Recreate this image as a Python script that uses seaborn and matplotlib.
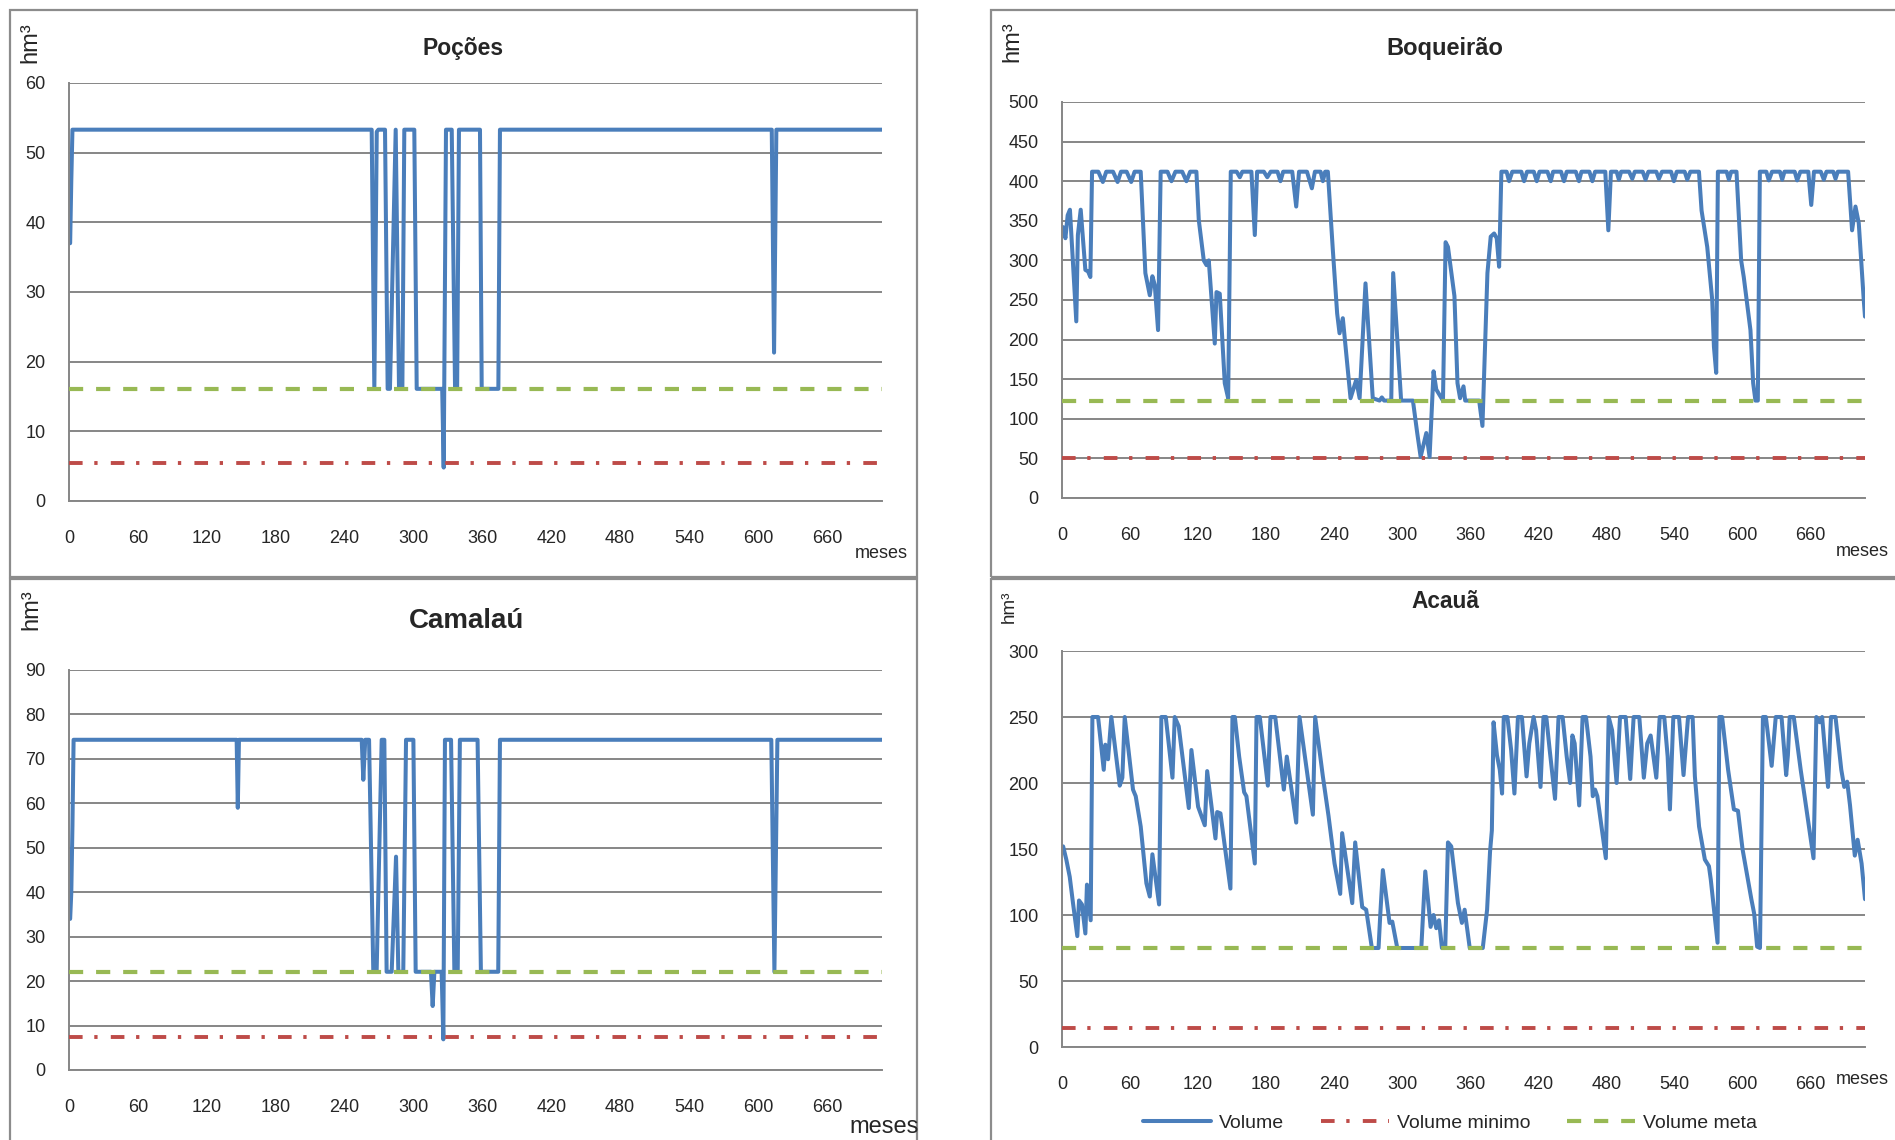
# Volume simulado dos reservatórios (Poções, Boqueirão, Camalaú, Acauã)
import pandas as pd
import matplotlib.pyplot as plt
from matplotlib.patches import Rectangle
import seaborn as sns

# --- dados (mes, volume hm3) ---
pocoes_vol = [(1, 37.0), (2, 46.0), (3, 53.3), (263.6, 53.3), (265.9, 16.1), (268, 53.0), (269.4, 53.3),
              (275.2, 53.3), (277.5, 16.1), (279.5, 16.1), (284.5, 53.3), (287.4, 16.1), (290.3, 16.1),
              (292, 53.3), (300.7, 53.3), (302.8, 16.1), (325, 16.1), (326.3, 4.8), (328.3, 53.3),
              (333.3, 53.3), (336.2, 16.1), (338, 16.1), (339.6, 53.3), (357.9, 53.3), (359.4, 16.1),
              (373.9, 16.1), (375.3, 53.3), (612, 53.3), (614, 21.3), (616, 53.3), (708, 53.3)]

camalau_vol = [(1, 34.0), (2, 40.0), (3, 55.0), (4, 74.3), (146, 74.3), (147, 59.0), (148, 74.3),
               (254.9, 74.3), (256.3, 65.3), (258, 74.3), (261.3, 74.3), (265, 22.1), (267.9, 22.1),
               (272.3, 74.3), (274.6, 74.3), (276.6, 22.1), (281, 22.1), (284.8, 48.0), (286.8, 22.1),
               (291.1, 22.1), (293.5, 74.3), (299.9, 74.3), (301.9, 22.1), (315.2, 22.1), (316.7, 14.4),
               (318.2, 22.1), (324.5, 22.1), (326, 6.9), (327.4, 74.3), (332.7, 74.3), (335.6, 22.1),
               (338.5, 22.1), (340.4, 74.3), (355.8, 74.3), (358.7, 22.1), (373.8, 22.1), (375.3, 74.3),
               (611.6, 74.3), (614.3, 22.1), (616.9, 74.3), (708, 74.3)]

boqueirao_vol = [(1, 342), (3, 328), (5, 357), (7, 364), (12.6, 223), (14, 332), (16.5, 364), (20.6, 288),
                 (23, 286), (25, 279), (26.5, 412), (32, 412), (36, 399), (39, 412), (45, 412), (49, 399),
                 (52, 412), (57, 412), (61, 399), (64, 412), (69.4, 412), (73.5, 284), (77.4, 256),
                 (79.7, 280), (81.8, 269), (84.7, 212), (87, 412), (93, 412), (96.5, 400), (100, 412),
                 (106, 412), (109.7, 400), (113, 412), (118.5, 412), (120.6, 351), (125, 300), (127.4, 294),
                 (129.4, 300), (134.7, 195), (136.2, 260), (139.1, 258), (143.5, 145), (146.5, 126),
                 (148.8, 412), (154, 412), (156.8, 405), (159, 412), (167, 412), (170, 332), (172, 412),
                 (178, 412), (181, 405), (184, 412), (190, 412), (192.6, 400), (195, 412), (203, 412),
                 (206.5, 368), (209, 412), (216, 412), (220.3, 391), (223, 412), (228, 412), (230, 400),
                 (232, 412), (234.4, 412), (238.8, 313), (242.6, 233), (244.7, 208), (247.6, 227),
                 (254.4, 126), (259.4, 149), (262.4, 126), (267.6, 271), (274, 126), (280, 123), (282, 127),
                 (284, 123), (290.3, 123), (292, 284), (299, 123), (309.4, 123), (313.2, 82), (316.2, 52),
                 (321.2, 82), (324.1, 52), (327.6, 160), (330, 137), (335.9, 123), (338.2, 323),
                 (340.3, 317), (346, 255), (348.7, 145), (351, 126), (354, 141), (355.5, 123), (367.8, 123),
                 (370.7, 91), (375.1, 284), (378, 330), (381, 334), (383.3, 328), (385.4, 292), (387.4, 412),
                 (392, 412), (394.2, 400), (397, 412), (405, 412), (407.4, 400), (410, 412), (416, 412),
                 (418.6, 400), (421, 412), (428, 412), (430.9, 400), (433, 412), (440, 412), (442.6, 400),
                 (445, 412), (453, 412), (455.8, 400), (458, 412), (465, 412), (467.6, 400), (470, 412),
                 (479, 412), (481.7, 338), (484, 412), (489, 412), (491, 402), (493, 412), (500, 412),
                 (502.8, 403), (505, 412), (512, 412), (514.5, 402), (517, 412), (524, 412), (526.3, 403),
                 (529, 412), (537, 412), (539.5, 400), (542, 412), (549, 412), (551.3, 402), (554, 412),
                 (561.6, 412), (563.9, 363), (568.9, 317), (573.3, 250), (574.8, 191), (576.8, 158),
                 (578.3, 412), (586, 412), (588, 402), (590, 412), (594.7, 412), (598.8, 300), (601.1, 279),
                 (607, 212), (609.4, 145), (611.4, 123), (613.5, 123), (615.3, 412), (621, 412),
                 (623.2, 401), (626, 412), (633, 412), (635, 402), (637, 412), (646, 412), (648.2, 401),
                 (651, 412), (658, 412), (660.6, 370), (663, 412), (669, 412), (671.7, 402), (674, 412),
                 (680, 412), (682, 403), (684, 412), (693.1, 412), (696.6, 338), (699.6, 368), (702.5, 347),
                 (706.9, 250), (708, 229)]

acaua_vol = [(1, 152), (3.8, 142), (6.8, 129), (9.7, 109), (13.5, 84), (15, 111), (17.6, 108), (20.6, 86),
             (22, 123), (25.3, 96), (26.8, 250), (31.8, 250), (36.8, 210), (38.2, 229), (40.6, 218),
             (43.5, 250), (50.9, 198), (53.2, 204), (55.3, 250), (62.6, 195), (65, 190), (69.4, 167),
             (74.4, 124), (77.4, 114), (79.7, 146), (85.6, 108), (87.6, 250), (91.5, 250), (97.4, 204),
             (99.4, 250), (102.9, 243), (111.8, 181), (114.1, 225), (120, 182), (125.9, 168), (128, 209),
             (135.3, 158), (136.8, 178), (139.7, 177), (148.5, 120), (150.3, 250), (152.4, 250),
             (156.2, 220), (160.6, 193), (162.6, 190), (170, 139), (171.5, 250), (174.4, 250),
             (181.5, 198), (183.8, 250), (188, 250), (195.6, 195), (198.2, 220), (206.5, 170),
             (209.4, 250), (221.2, 176), (223.2, 250), (230, 205), (235, 175), (238.8, 149), (240.3, 139),
             (245.3, 116), (247, 162), (255.9, 109), (258.5, 155), (264.7, 106), (268.2, 104), (273.2, 75),
             (279.1, 75), (280.6, 100), (282.9, 134), (288.8, 94), (291.2, 95), (295.6, 75), (316.8, 75),
             (320.3, 133), (325, 91), (327.6, 100), (330, 90), (332.4, 96), (335, 75), (337.9, 75),
             (340.3, 155), (343.2, 152), (349.1, 109), (352.6, 94), (355, 104), (359.5, 75), (371, 75),
             (374.8, 104), (377.4, 148), (379, 164), (380.5, 246), (383.5, 221), (386, 210), (388, 192),
             (389.5, 250), (392.7, 250), (396, 225), (398.9, 192), (402, 250), (405.5, 250), (409.6, 205),
             (412, 230), (415.8, 250), (418, 240), (421.9, 197), (424.5, 250), (427, 250), (430, 225),
             (434.7, 188), (437.8, 250), (441.4, 250), (445, 220), (448, 200), (450, 236), (452, 230),
             (456, 183), (459, 250), (462, 250), (466, 220), (468, 190), (470, 195), (472, 190),
             (476, 165), (479.5, 143), (482, 250), (485, 240), (489, 200), (492, 250), (497, 250),
             (501, 203), (504, 250), (509, 250), (513, 204), (516, 230), (519, 236), (524, 204),
             (527, 250), (531, 250), (534, 220), (536, 180), (539, 250), (544, 250), (548, 206),
             (552, 250), (556, 250), (558, 205), (561.7, 167), (566.8, 142), (570.4, 137), (572, 127),
             (578, 79), (579.6, 250), (582, 250), (587.3, 210), (592.4, 180), (596, 179), (600, 150),
             (602.7, 137), (607.8, 112), (610.3, 101), (612.9, 76), (615.4, 75), (618, 250), (620.6, 250),
             (625.7, 213), (629.3, 250), (634.4, 250), (638.5, 206), (640, 221), (641.6, 250),
             (645.2, 250), (651.3, 210), (654.9, 189), (662.6, 143), (665.1, 250), (668.2, 246),
             (670.2, 250), (675.4, 197), (678, 250), (682, 250), (687.1, 210), (689.7, 197), (692.3, 201),
             (694.8, 183), (699, 145), (701.5, 157), (705, 139), (708, 112)]

# volumes meta e minimo de cada reservatório
vol_meta = {"Poções": 16.1, "Boqueirão": 123, "Camalaú": 22.1, "Acauã": 75}
vol_min = {"Poções": 5.4, "Boqueirão": 51, "Camalaú": 7.35, "Acauã": 14.3}

y_max = {"Poções": 60, "Boqueirão": 500, "Camalaú": 90, "Acauã": 300}
y_step = {"Poções": 10, "Boqueirão": 50, "Camalaú": 10, "Acauã": 50}

x_ticks = list(range(0, 661, 60))

# --- estilo ---
sns.set_style("white")
plt.rcParams["font.family"] = ["Liberation Sans", "DejaVu Sans"]

AZUL = "#4A7EBB"
VERMELHO = "#BE4B48"
VERDE = "#98B954"
CINZA = "#868686"

W, H = 1895, 1140
fig = plt.figure(figsize=(W / 100, H / 100), dpi=100)


def px(x, y):
    return x / W, 1 - y / H


# posição dos eixos em pixels: (esq, dir, y do zero, y do topo)
layout = {
    "Poções": (69, 882, 501, 83),
    "Boqueirão": (1062, 1865, 498, 102),
    "Camalaú": (69, 882, 1070, 670),
    "Acauã": (1062, 1865, 1047, 651),
}
dados = {"Poções": pocoes_vol, "Boqueirão": boqueirao_vol, "Camalaú": camalau_vol, "Acauã": acaua_vol}

axes = {}
for nome, (x0, x1, yb, yt) in layout.items():
    ax = fig.add_axes([x0 / W, 1 - yb / H, (x1 - x0) / W, (yb - yt) / H])
    axes[nome] = ax
    df = pd.DataFrame(dados[nome], columns=["mes", "volume"])
    sns.lineplot(data=df, x="mes", y="volume", ax=ax, color=AZUL, lw=2.9,
                 estimator=None, sort=False, label="Volume", zorder=2)
    ax.axhline(vol_min[nome], color=VERMELHO, lw=2.8, dashes=(3.5, 3.0, 0.85, 3.4),
               label="Volume minimo", zorder=3)
    ax.axhline(vol_meta[nome], color=VERDE, lw=3.0, dashes=(3.4, 3.1),
               label="Volume meta", zorder=4)
    if ax.get_legend():
        ax.get_legend().remove()

    ax.set_xlim(0, 708)
    ax.set_ylim(0, y_max[nome])
    ax.set_xticks(x_ticks)
    ax.set_xticks(range(0, 709, 12), minor=True)
    ax.set_yticks(range(0, y_max[nome] + 1, y_step[nome]))
    ax.set_xlabel("")
    ax.set_ylabel("")
    ax.yaxis.grid(True, color=CINZA, lw=1.4)
    ax.set_axisbelow(True)
    for s in ["top", "right"]:
        ax.spines[s].set_visible(False)
    for s in ["left", "bottom"]:
        ax.spines[s].set_color(CINZA)
        ax.spines[s].set_linewidth(1.4)
    ax.tick_params(axis="x", which="major", length=6, width=1.3, color=CINZA,
                   direction="out", pad=15, labelsize=13)
    ax.tick_params(axis="x", which="minor", length=4, width=1.1, color=CINZA, direction="out")
    ax.tick_params(axis="y", length=6, width=1.3, color=CINZA, direction="out", pad=11, labelsize=13)

# títulos, unidades e rótulo do eixo x
titulos = [("Poções", 463, 49, 16.5), ("Boqueirão", 1445, 49, 17),
           ("Camalaú", 467, 621, 20), ("Acauã", 1445, 601, 16.3)]
for txt, x, y, fs in titulos:
    fig.text(*px(x, y), txt, ha="center", va="center", fontsize=fs, fontweight="bold")

for x, y, fs in [(30, 43, 17), (1012, 42, 17), (31, 610, 17), (1009, 607, 13.5)]:
    fig.text(*px(x, y), "hm³", ha="center", va="center", rotation=90, fontsize=fs)

for x, y, fs in [(881, 553, 13), (1862, 551, 13), (884, 1127, 17), (1862, 1080, 13)]:
    fig.text(*px(x, y), "meses", ha="center", va="center", fontsize=fs)

# molduras dos quatro gráficos
for x0, y0, x1, y1 in [(10, 10, 917, 577), (991, 10, 1905, 577), (10, 579, 917, 1150), (991, 579, 1905, 1150)]:
    fig.add_artist(Rectangle(px(x0, y1), (x1 - x0) / W, (y1 - y0) / H, transform=fig.transFigure,
                             fill=False, ec="#8C8C8C", lw=1.6))

handles, labels = axes["Acauã"].get_legend_handles_labels()
fig.legend(handles, labels, loc="center", bbox_to_anchor=px(1450, 1123), ncol=3, frameon=False,
           fontsize=14, handlelength=3.5, handletextpad=0.4, columnspacing=1.9)

fig.savefig("out.png", dpi=100)
